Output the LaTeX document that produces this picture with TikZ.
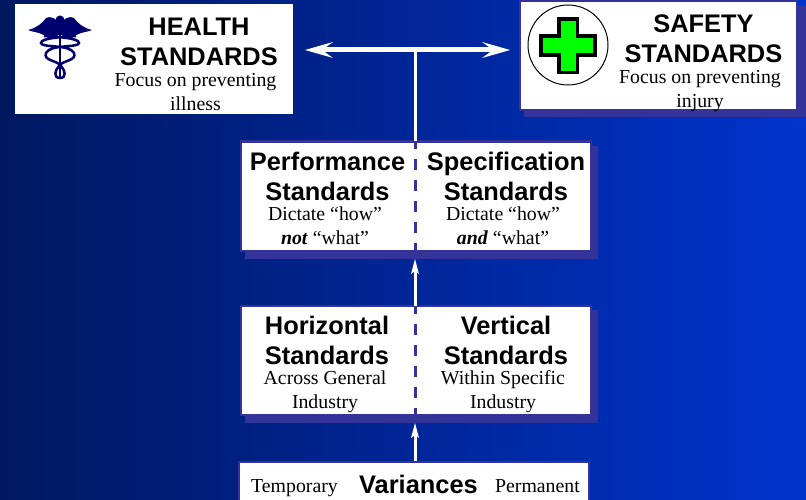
\documentclass[tikz,border=0pt]{standalone}
\usepackage{fontspec}
\setmainfont{Liberation Serif}
\setsansfont{Liberation Sans}
\definecolor{bgL}{RGB}{0,24,96}
\definecolor{bgR}{RGB}{0,51,204}
\definecolor{edgeC}{RGB}{51,51,153}
\definecolor{navyC}{RGB}{0,0,110}
\definecolor{crossC}{RGB}{0,255,0}
\tikzset{
  whitebox/.style={fill=white,draw=edgeC,line width=2.500pt},
  shadowbox/.style={fill=edgeC,draw=none},
  headtxt/.style={font=\sffamily\bfseries\fontsize{25.400}{30}\selectfont,align=center,inner sep=0pt,text=black},
  subtxt/.style={font=\fontsize{19.800}{24}\selectfont,align=center,inner sep=0pt,text=black},
  linkw/.style={draw=white,line width=3pt},
  barw/.style={draw=white,line width=5pt},
  tipw/.style={fill=white,draw=none},
  dashline/.style={draw=edgeC,line width=3pt,dash pattern=on 11pt off 10pt},
}
\begin{document}
\begin{tikzpicture}[x=1pt,y=-1pt]
\useasboundingbox (0,0) rectangle (806,500);
\shade[left color=bgL,right color=bgR] (0,0) rectangle (806,500);
% anchor coordinates
\coordinate (top) at (415,50);
\coordinate (hl) at (322,50);
\coordinate (hr) at (493,50);
% Health box
\fill[white] (15,4) rectangle (293,114);
\node[headtxt] (healthT) at (199,42) {HEALTH\\STANDARDS};
\node[subtxt] (healthS) at (195.500,92.500) {Focus on preventing\\illness};
% caduceus
\fill[navyC] (60,26) .. controls (56,17) and (50,16) .. (46,18) .. controls (42,24) and (36,28) .. (28,30)
  .. controls (33,32) and (36,32) .. (39,33) .. controls (42,33) and (43,36) .. (46,36)
  .. controls (50,39) and (55,38) .. (60,34) -- cycle;
\fill[navyC] (60,26) .. controls (64,17) and (70,16) .. (74,18) .. controls (78,24) and (84,28) .. (92,30)
  .. controls (87,32) and (84,32) .. (81,33) .. controls (78,33) and (77,36) .. (74,36)
  .. controls (70,39) and (65,38) .. (60,34) -- cycle;
\fill[navyC] (60,20) circle (4.500);
\draw[navyC,line width=2.200pt] (60,24) -- (60,77);
\draw[navyC,line width=2.500pt] (76,36) .. controls (62,37) and (41,38) .. (41,43) .. controls (41,48) and (70,44) .. (74,53)
  .. controls (77,61) and (63,60) .. (59,66) .. controls (55,70) and (53,78) .. (60,78) .. controls (67,78) and (65,70) .. (61,66)
  .. controls (57,60) and (43,61) .. (46,53) .. controls (50,44) and (79,48) .. (79,43) .. controls (79,38) and (58,37) .. (44,36);
% Safety box
\fill[shadowbox] (524,6) rectangle (806,117);
\draw[whitebox] (520,1) rectangle (797,110);
\node[headtxt] (safetyT) at (703.500,39) {SAFETY\\STANDARDS};
\node[subtxt] (safetyS) at (700,91.500) {Focus on preventing\\injury};
\draw[black,line width=1pt,fill=white] (568,45) circle (40);
\draw[black,line width=3.500pt,fill=crossC] (559,19) -- (577.500,19) -- (577.500,36) -- (595,36) -- (595,55) -- (577.500,55) -- (577.500,72.500) -- (559,72.500) -- (559,55) -- (541,55) -- (541,36) -- (559,36) -- cycle;
% Performance box
\fill[shadowbox] (245,146) rectangle (598,259);
\draw[whitebox] (241,141.500) rectangle (591,251);
\node[headtxt] (perfT) at (327.500,176) {Performance\\Standards};
\node[headtxt] (specT) at (506,176) {Specification\\Standards};
\node[subtxt] (perfS) at (325,226) {Dictate “how”\\\textbf{\textit{not}} “what”};
\node[subtxt] (specS) at (503,226) {Dictate “how”\\\textbf{\textit{and}} “what”};
% Horizontal box
\fill[shadowbox] (245,310) rectangle (598,423);
\draw[whitebox] (241,306) rectangle (591,415);
\node[headtxt] (horT) at (327,340) {Horizontal\\Standards};
\node[headtxt] (verT) at (506,340) {Vertical\\Standards};
\node[subtxt] (horS) at (325,392) {Across General\\Industry};
\node[subtxt] (verS) at (503,392) {Within Specific\\Industry};
% Variances box
\draw[whitebox] (239,462) rectangle (589,510);
\node[headtxt,anchor=base] (varT) at (418.500,493) {Variances};
\node[subtxt,anchor=base west] (varL) at (251,492) {Temporary};
\node[subtxt,anchor=base east] (varR) at (580,492) {Permanent};
% connectors
\coordinate (perfTop) at (415,141);
\coordinate (perfBot) at (415,250);
\coordinate (horTop) at (415,306);
\coordinate (horBot) at (415,415);
\coordinate (varTop) at (415,461);
\draw[barw] (hl) -- (hr);
\draw[linkw] (top) -- (perfTop);
\fill[tipw] (305,50) -- (333,42) -- (322,50) -- (333,58) -- cycle;
\fill[tipw] (510,50) -- (482,42) -- (493,50) -- (482,58) -- cycle;
\draw[dashline,dash phase=3pt] (perfTop) -- (perfBot);
\draw[dashline,dash phase=3pt] (horTop) -- (horBot);
\draw[linkw] (horTop) -- (415,268);
\fill[tipw] (415,259) -- (419,274) -- (415,271) -- (411,274) -- cycle;
\draw[linkw] (varTop) -- (415,432);
\fill[tipw] (415,423) -- (419,438) -- (415,435) -- (411,438) -- cycle;
\end{tikzpicture}
\end{document}
